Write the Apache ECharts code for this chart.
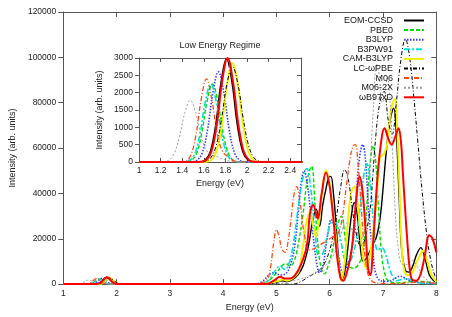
<!DOCTYPE html>
<html><head><meta charset="utf-8">
<script src="https://cdn.jsdelivr.net/npm/echarts@6/dist/echarts.min.js"></script>
<style>html,body{margin:0;padding:0;background:#fff}#c{width:452px;height:317px}</style>
</head><body><div id="c"></div>
<script>
const seriesNames = ['EOM-CCSD','PBE0','B3LYP','B3PW91','CAM-B3LYP','LC-ωPBE','M06','M06-2X','ωB97xD'];

const eomccsd = [[1.0,0],[1.5,0],[1.56,5],[1.61,50],[1.66,300],[1.71,1070],[1.76,2310],[1.81,2980],[1.86,2310],[1.91,1070],[1.96,300],[2.01,50],[2.06,5],[2.15,0],
[4.7,0],[4.8,0],[5.0,800],[5.1,1500],[5.2,1200],[5.3,2000],[5.4,4000],[5.5,8000],[5.6,16800],[5.68,28000],[5.75,33000],[5.81,25500],[5.87,35000],[5.93,42000],[5.98,47000],[6.02,47500],[6.07,40000],[6.12,26000],[6.17,10000],[6.22,1700],[6.28,5000],[6.34,16000],[6.4,29000],[6.46,36000],[6.52,30000],[6.58,15000],[6.63,10000],[6.7,12000],[6.8,17000],[6.88,21000],[6.95,30000],[7.0,42000],[7.06,58000],[7.13,72000],[7.2,77600],[7.25,66000],[7.3,40000],[7.35,15000],[7.42,6000],[7.48,5300],[7.55,7500],[7.63,13000],[7.71,16100],[7.79,11000],[7.87,4000],[7.95,1500],[8.0,1000]];

const pbe0 = [[1.0,0],[1.4,0],[1.43,4],[1.48,38],[1.53,225],[1.58,810],[1.63,1745],[1.68,2250],[1.73,1745],[1.78,810],[1.83,225],[1.88,38],[1.93,4],[2.0,0],
[4.6,0],[4.7,0],[4.85,1500],[5.0,5000],[5.1,8000],[5.18,9000],[5.25,8000],[5.33,10000],[5.42,19000],[5.5,31000],[5.58,46000],[5.66,52000],[5.72,36000],[5.78,17000],[5.84,7000],[5.9,4500],[5.97,8000],[6.05,15000],[6.13,25000],[6.22,30000],[6.29,20000],[6.36,8000],[6.45,7000],[6.55,9000],[6.62,14000],[6.67,25000],[6.72,42800],[6.77,56000],[6.81,61000],[6.86,55000],[6.91,35500],[6.97,14000],[7.03,5000],[7.1,1500],[7.3,500],[7.5,1000],[7.7,1200],[8.0,200]];

const b3lyp = [[1.0,0],[1.45,0],[1.485,4],[1.535,44],[1.585,260],[1.635,936],[1.685,2015],[1.735,2600],[1.785,2015],[1.835,936],[1.885,260],[1.935,44],[1.985,4],[2.05,0],
[4.5,0],[4.6,0],[4.75,1500],[4.88,4500],[4.97,5000],[5.07,4000],[5.17,4500],[5.27,9000],[5.35,18000],[5.41,32000],[5.46,44000],[5.52,50000],[5.58,44000],[5.64,32000],[5.69,21000],[5.75,10000],[5.81,5000],[5.88,9000],[5.95,20000],[6.03,28500],[6.1,24000],[6.17,12000],[6.25,5300],[6.33,8000],[6.4,14000],[6.45,22000],[6.5,40000],[6.56,56000],[6.62,61500],[6.67,55000],[6.72,36000],[6.77,22000],[6.81,14000],[6.86,5000],[6.95,1500],[7.05,1200],[7.15,1500],[7.25,2800],[7.32,3500],[7.4,2800],[7.5,1500],[7.6,800],[8.0,200]];

const b3pw91 = [[1.0,0],[1.38,0],[1.415,4],[1.465,38],[1.515,225],[1.565,810],[1.615,1745],[1.665,2250],[1.715,1745],[1.765,810],[1.815,225],[1.865,38],[1.915,4],[1.98,0],
[4.6,0],[4.7,0],[4.85,1500],[4.95,5000],[5.07,8000],[5.15,6500],[5.22,8000],[5.31,16800],[5.41,34000],[5.5,47000],[5.57,51000],[5.64,43000],[5.72,24000],[5.8,12000],[5.88,14000],[5.96,22000],[6.05,27500],[6.12,27000],[6.2,20000],[6.28,11000],[6.34,9500],[6.42,12000],[6.5,20000],[6.57,34000],[6.64,48000],[6.7,53000],[6.76,45000],[6.83,25000],[6.9,15000],[6.98,16000],[7.05,13000],[7.12,7000],[7.18,3500],[7.25,1500],[7.35,2000],[7.45,2500],[7.55,1500],[7.7,500],[8.0,200]];

const camb3lyp = [[1.0,0],[1.58,0],[1.615,5],[1.665,48],[1.715,285],[1.765,1026],[1.815,2209],[1.865,2850],[1.915,2209],[1.965,1026],[2.015,285],[2.065,48],[2.115,5],[2.18,0],
[4.6,0],[4.7,0],[4.9,700],[5.05,1500],[5.12,2000],[5.2,1500],[5.3,2500],[5.41,5300],[5.5,16800],[5.56,27000],[5.62,31500],[5.68,27000],[5.74,21000],[5.8,28000],[5.87,44000],[5.93,50200],[5.99,45000],[6.05,33000],[6.1,24000],[6.16,9500],[6.22,1500],[6.28,10000],[6.34,27000],[6.4,40000],[6.46,43000],[6.52,36000],[6.58,22000],[6.64,10000],[6.69,7000],[6.75,12000],[6.82,25000],[6.88,38400],[6.94,55700],[7.02,57500],[7.08,62000],[7.15,77000],[7.22,81600],[7.27,66000],[7.31,42000],[7.35,17000],[7.4,6000],[7.47,3900],[7.55,5000],[7.62,9000],[7.68,12000],[7.75,14700],[7.82,11000],[7.9,4500],[8.0,1000]];

const lcwpbe = [[1.0,0],[1.52,0],[1.565,2],[1.615,21],[1.665,121],[1.715,473],[1.765,1260],[1.815,2263],[1.865,2750],[1.915,2263],[1.965,1260],[2.015,473],[2.065,121],[2.115,21],[2.165,2],[2.22,0],
[5.2,0],[5.3,0],[5.45,1000],[5.57,2700],[5.7,4500],[5.8,6000],[5.9,9000],[6.0,15000],[6.07,22000],[6.13,30000],[6.2,42000],[6.28,50500],[6.35,46000],[6.42,34000],[6.5,22000],[6.58,17000],[6.65,19000],[6.72,27000],[6.77,35500],[6.86,64000],[6.94,80000],[7.02,85000],[7.1,72000],[7.17,66000],[7.25,80000],[7.33,98000],[7.42,108000],[7.5,100000],[7.58,82000],[7.65,63500],[7.73,42000],[7.82,22000],[7.9,10000],[7.97,3900],[8.0,2500]];

const m06 = [[1.0,0],[1.35,0],[1.425,21],[1.475,168],[1.525,734],[1.575,1786],[1.625,2400],[1.675,1786],[1.725,800],[1.775,300],[1.825,150],[1.875,40],[1.95,0],
[4.5,0],[4.6,0],[4.7,300],[4.8,1500],[4.85,3000],[4.9,9000],[4.95,18500],[5.0,24000],[5.05,21000],[5.1,15500],[5.16,14000],[5.22,19000],[5.28,30000],[5.33,39500],[5.38,43000],[5.43,38500],[5.48,29000],[5.53,21000],[5.6,15000],[5.7,15500],[5.8,17000],[5.9,18500],[6.0,20000],[6.1,21500],[6.17,23000],[6.24,30000],[6.31,42800],[6.38,55000],[6.44,61000],[6.48,61500],[6.53,53000],[6.58,38000],[6.63,21000],[6.68,9000],[6.74,3000],[6.82,900],[6.95,300],[7.2,200],[7.5,600],[7.7,1000],[7.9,600],[8.0,300]];

const m062x = [[1.0,0],[1.18,0],[1.225,7],[1.275,50],[1.325,240],[1.375,730],[1.425,1424],[1.475,1780],[1.525,1424],[1.575,760],[1.625,330],[1.675,200],[1.725,150],[1.775,80],[1.85,20],[1.95,0],
[4.7,0],[4.8,0],[5.0,300],[5.2,800],[5.4,2000],[5.6,3500],[5.8,6000],[5.95,9000],[6.1,14000],[6.2,21000],[6.3,27000],[6.4,25000],[6.5,19000],[6.6,20000],[6.68,28000],[6.75,48000],[6.82,78000],[6.88,97000],[6.93,92000],[6.98,80000],[7.03,82000],[7.08,91000],[7.13,82000],[7.18,58000],[7.23,32000],[7.28,17000],[7.35,9000],[7.45,8500],[7.55,10500],[7.65,7500],[7.75,3500],[7.85,1500],[8.0,500]];

const wb97xd = [[1.0,0],[1.53,0],[1.57,5],[1.62,51],[1.67,300],[1.72,1080],[1.77,2325],[1.82,3000],[1.87,2325],[1.92,1080],[1.97,300],[2.02,51],[2.07,5],[2.13,0],
[4.7,0],[4.8,0],[4.95,1500],[5.07,3200],[5.15,2500],[5.25,2500],[5.35,4000],[5.45,8000],[5.57,16800],[5.63,31200],[5.69,34900],[5.77,29000],[5.85,40000],[5.93,49250],[6.0,43000],[6.06,31000],[6.13,14000],[6.2,3000],[6.25,1500],[6.32,5000],[6.39,12000],[6.44,21000],[6.5,38000],[6.56,47400],[6.61,42000],[6.66,28500],[6.72,6900],[6.76,4000],[6.82,20000],[6.88,42000],[6.95,60000],[7.03,68700],[7.1,64000],[7.16,61500],[7.23,65000],[7.29,68700],[7.34,62000],[7.37,50000],[7.41,35000],[7.45,21000],[7.5,7000],[7.55,1800],[7.62,1500],[7.7,4000],[7.78,12000],[7.87,21500],[7.93,20000],[8.0,14000]];

const dataSets = [eomccsd, pbe0, b3lyp, b3pw91, camb3lyp, lcwpbe, m06, m062x, wb97xd];

const FONT = '"Liberation Sans", Arial, sans-serif';
const AXC = '#555';
const TXC = '#222';
const styles = [
  {color:'#000000', width:1.4, type:'solid'},
  {color:'#00dd00', width:1.4, type:[4,2]},
  {color:'#3a3aff', width:1.6, type:[1.5,1.5]},
  {color:'#00dede', width:1.6, type:[6,2,2,2]},
  {color:'#f2f200', width:2, type:'solid'},
  {color:'#000000', width:1, type:[4,2,1,2]},
  {color:'#ff4a10', width:1.3, type:[5,2,1,2]},
  {color:'#999999', width:1, type:[2,2]},
  {color:'#ff0000', width:2, type:'solid'}
];
const plain = v => String(v);

function axisCfg(grid, min, max, interval, pos, labels, tickLen, extra) {
  return Object.assign({
    type:'value', gridIndex:grid, min:min, max:max, interval:interval, position:pos,
    axisLine:{show:true, onZero:false, lineStyle:{color:AXC, width:1}},
    axisTick:{show:true, inside:true, length:tickLen, lineStyle:{color:AXC}},
    axisLabel:{show:labels, fontSize:8.5, color:TXC, fontFamily:FONT, formatter:plain},
    splitLine:{show:false}
  }, extra || {});
}

const chart = echarts.init(document.getElementById('c'));
const series = [];
seriesNames.forEach((n, i) => {
  series.push({name:n, type:'line', xAxisIndex:0, yAxisIndex:0, data:dataSets[i], smooth:0.4,
    symbol:'none', lineStyle:styles[i], itemStyle:{color:styles[i].color}, z:2, animation:false});
});
seriesNames.forEach((n, i) => {
  series.push({name:n, type:'line', xAxisIndex:2, yAxisIndex:2, data:dataSets[i], smooth:0.4,
    symbol:'none', lineStyle:styles[i], itemStyle:{color:styles[i].color}, z:12, clip:true, animation:false});
});

const option = {
  animation:false,
  backgroundColor:'#fff',
  title:{text:'Low Energy Regime', left:220, top:41, textAlign:'center', padding:0,
    textStyle:{fontSize:9, fontWeight:'normal', color:TXC, fontFamily:FONT}},
  legend:{orient:'vertical', right:27, top:16, align:'right', itemWidth:20, itemHeight:8, itemGap:0.6,
    padding:0, data:seriesNames, selectedMode:false,
    itemStyle:{opacity:0, borderWidth:0},
    textStyle:{fontSize:9, color:'#111', fontFamily:FONT, lineHeight:8, padding:[0,6,0,0]}},
  grid:[
    {left:60.5, top:12, width:375.8, height:277, containLabel:false},
    {left:139, top:58, width:162, height:104, containLabel:false, show:true, backgroundColor:'#fff', borderWidth:0, z:10}
  ],
  xAxis:[
    axisCfg(0, 1, 8, 1, 'bottom', true, 5, {axisLabel:{show:true, fontSize:8.5, color:TXC, fontFamily:FONT, margin:5, formatter:plain},
      name:'Energy (eV)', nameLocation:'middle', nameGap:12, nameTextStyle:{fontSize:9, color:TXC, fontFamily:FONT}}),
    axisCfg(0, 1, 8, 1, 'top', false, 5),
    axisCfg(1, 1, 2.5, 0.2, 'bottom', true, 4, {z:11, axisLabel:{show:true, fontSize:8.5, color:TXC, fontFamily:FONT, margin:4.5, showMaxLabel:false},
      name:'Energy (eV)', nameLocation:'middle', nameGap:17, nameTextStyle:{fontSize:9, color:TXC, fontFamily:FONT}}),
    axisCfg(1, 1, 2.5, 0.2, 'top', false, 4, {z:11})
  ],
  yAxis:[
    axisCfg(0, 0, 120000, 20000, 'left', true, 5, {axisTick:{show:true, inside:false, length:5, lineStyle:{color:AXC}},
      axisLabel:{show:true, fontSize:8.5, color:TXC, fontFamily:FONT, margin:7, formatter:plain},
      name:'Intensity (arb. units)', nameLocation:'middle', nameGap:46, nameRotate:90, nameTextStyle:{fontSize:9, color:TXC, fontFamily:FONT}}),
    axisCfg(0, 0, 120000, 20000, 'right', false, 5),
    axisCfg(1, 0, 3000, 500, 'left', true, 4, {z:11, axisTick:{show:true, inside:false, length:4, lineStyle:{color:AXC}},
      axisLabel:{show:true, fontSize:8.5, color:TXC, fontFamily:FONT, margin:6, formatter:plain},
      name:'Intensity (arb. units)', nameLocation:'middle', nameGap:35, nameRotate:90, nameTextStyle:{fontSize:9, color:TXC, fontFamily:FONT}}),
    axisCfg(1, 0, 3000, 500, 'right', false, 4, {z:11})
  ],
  series:series
};
chart.setOption(option);
</script>
</body></html>
